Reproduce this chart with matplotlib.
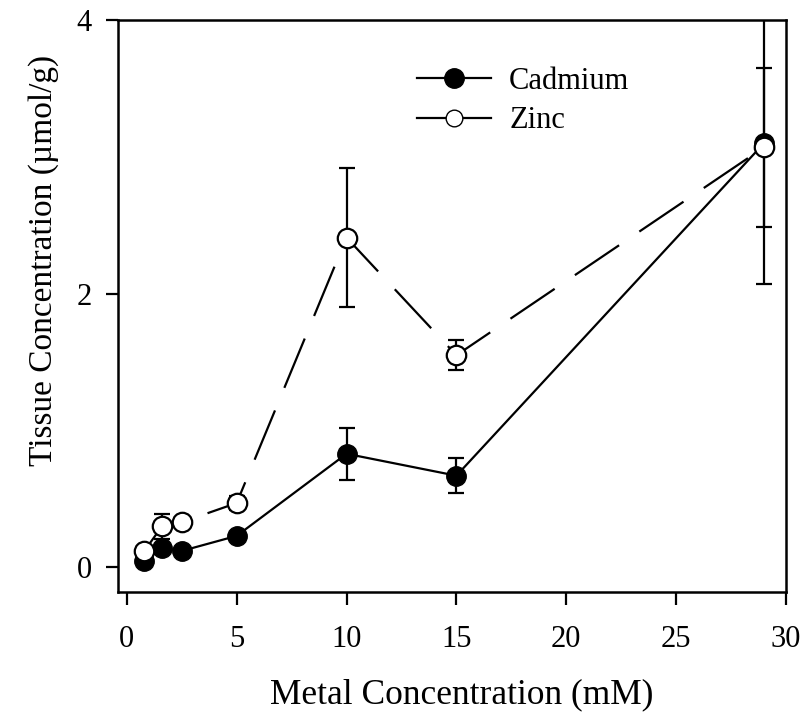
import matplotlib
matplotlib.use("Agg")
import matplotlib.pyplot as plt
from matplotlib.lines import Line2D

plt.rcParams["font.family"] = ["Liberation Serif", "DejaVu Serif"]

conc = [0.8, 1.6, 2.5, 5, 10, 15, 29]
cadmium = [0.05, 0.14, 0.12, 0.23, 0.83, 0.67, 3.10]
cadmium_err = [0.0, 0.0, 0.0, 0.0, 0.19, 0.13, 1.03]
zinc = [0.12, 0.30, 0.33, 0.47, 2.41, 1.55, 3.07]
zinc_err = [0.0, 0.09, 0.0, 0.05, 0.51, 0.11, 0.58]

fig = plt.figure(figsize=(8.05, 7.21), dpi=100)
ax = fig.add_axes([118 / 805, 1 - 592 / 721, (786 - 118) / 805, (592 - 20) / 721])

ax.errorbar(conc, cadmium, yerr=cadmium_err, color="black", lw=1.6,
            marker="o", ms=14, mfc="black", mec="black", capsize=5.5,
            elinewidth=1.6, capthick=1.6, zorder=3)
ax.errorbar(conc, zinc, yerr=zinc_err, color="black", lw=1.6,
            marker="o", ms=14, mfc="white", mec="black", mew=1.6,
            capsize=5.5, elinewidth=1.6, capthick=1.6, dashes=(24, 11),
            zorder=4)

ax.set_xlim(-0.4, 30)
ax.set_ylim(-0.18, 4)
ax.set_xticks(range(0, 31, 5))
ax.set_yticks([0, 2, 4])
for s in ax.spines.values():
    s.set_linewidth(1.8)
ax.tick_params(direction="out", length=9, width=1.6, labelsize=22, pad=15)
ax.tick_params(axis="y", pad=10)

ax.set_xlabel("Metal Concentration (mM)", fontsize=25.5)
ax.set_ylabel("Tissue Concentration (µmol/g)", fontsize=24)
ax.xaxis.set_label_coords(0.515, -0.18)
ax.yaxis.set_label_coords(-0.112, 0.58)
ax.xaxis.label.set_va("center")
ax.yaxis.label.set_va("center")

handles = [
    Line2D([], [], color="black", lw=1.6, marker="o", ms=14, mfc="black"),
    Line2D([], [], color="black", lw=1.6, marker="o", ms=12, mfc="white"),
]
ax.legend(handles, ["Cadmium", "Zinc"], loc="upper left",
          bbox_to_anchor=(0.43, 0.94), frameon=False, fontsize=22,
          handlelength=2.4, handletextpad=0.6, labelspacing=0.35,
          borderaxespad=0)

fig.savefig("out.png", dpi=100)
